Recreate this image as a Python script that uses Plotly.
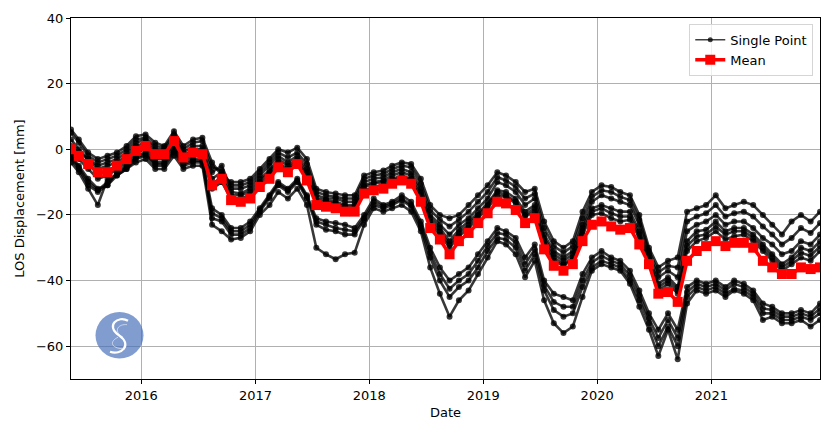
import plotly.graph_objects as go

# ---- data (monthly readings, values in mm) ----
months = ["2015-05-21"] + [f"{y}-{m:02d}-15" for y in range(2015, 2022) for m in range(1, 13)
                            if not (y == 2015 and m < 6)]

mean_vals = [0, -2, -4.5, -7, -7, -5, -3, -0.5,
             1, -1.5, -1.5, 2.5, -2.5, -1, -1.5, -11, -9, -15.5, -16, -15,
             -11.5, -9, -5.5, -7, -4.5, -9.5, -17, -17.5, -18, -19, -19, -13.5,
             -12.5, -12, -10.5, -9.5, -10.5, -16, -24, -27.5, -32, -28, -25.5, -22.5,
             -19.5, -16, -16.5, -18.5, -22.5, -21, -30.5, -35.5, -37, -35, -28, -23,
             -22, -23.5, -24.5, -24, -29, -35, -44, -43.5, -46.5, -34, -31, -29.5,
             -28, -29.5, -28.5, -28.5, -30, -34, -36, -38, -38, -36, -36.5, -36]

point_u1 = [6, 3, -1, -3, -2, -1, 1, 4,
            4.5, 2, 1, 5.5, 1, 3, 3.5, -4, -8, -10, -10, -9,
            -6, -3, 0, -1, 0.5, -3, -12, -13, -13.5, -14, -14, -8,
            -7, -6.5, -5, -4, -4.5, -9, -17, -20, -21, -20, -17, -14,
            -11, -7, -8, -10, -13, -12, -22, -28, -30, -28, -19, -13,
            -11, -11.5, -13, -14, -20, -30, -36, -34, -33, -19, -18, -17,
            -14, -18, -17, -16, -17, -20, -23, -26, -22, -20, -22, -19]

point_u4 = [5, 2, -2, -4, -3, -2, 0, 3,
            3.5, 1, 0.5, 4.5, 0, 2, 2.5, -5.5, -6.5, -11, -11, -10,
            -7, -4, -1, -2.5, -1, -4.5, -13, -14, -14.5, -15, -15, -9,
            -8, -7.5, -6, -5, -5.5, -10.5, -18.5, -21.5, -23.5, -21.5, -19, -16,
            -13, -8.5, -9.5, -11.5, -15, -13.5, -24, -29.5, -31.5, -29.5, -21, -14.5,
            -12.5, -13, -14.5, -15.5, -21.5, -31, -37.5, -35.5, -36, -22, -20.5, -19.5,
            -17, -20.5, -19.5, -19, -20.5, -23.5, -26, -29, -27, -24, -25.5, -22.5]

point_u2 = [3, 0, -3, -5, -4, -3, -1, 2,
            3, 0, 0, 3.5, -1, 1, 1, -7, -5, -12, -12, -11,
            -8, -5, -2, -4, -2, -6, -14, -15, -15, -16, -16, -10,
            -9, -8.5, -7, -6, -7, -12, -20, -23, -26, -23, -21, -18,
            -15, -10, -11, -13, -17, -15, -26, -31, -33, -31, -23, -16,
            -14, -15, -16, -17, -23, -32, -39, -37, -39, -25, -23, -22,
            -20, -23, -22, -22, -24, -27, -29, -32, -31, -28, -29, -26]

point_u3 = [1, -1, -3, -6, -5, -4, -2, 1,
            2, -1, -2, 2, -2, 0, 0, -9, -7, -13, -13.5, -12,
            -9, -6.5, -3, -5, -3, -7, -15, -15.5, -16, -17, -17, -11,
            -10, -9.5, -8, -7, -8, -13, -21, -24, -28, -24.5, -22, -19.5,
            -16.5, -12.5, -13, -15, -19, -17, -27, -32, -34, -32, -24, -18,
            -17, -18, -19, -19, -25, -33, -41, -39, -42, -28, -25, -24.5,
            -22, -25, -24, -24, -26, -29, -32, -35, -33, -30, -31, -28]

point_u5 = [0, -2, -4.5, -7.5, -6.5, -5, -3, 0,
            1, -2, -2.5, 1.5, -3, -1, -1, -10.5, -8.5, -14, -14, -13,
            -10, -7, -4, -6, -3.5, -8, -16, -16, -16.5, -17.5, -17.5, -11.5,
            -10.5, -10, -9, -8, -9, -14, -22, -25, -29, -25.5, -23, -20,
            -17, -13, -14, -16, -20, -18, -28, -33, -35, -33, -25, -19,
            -18, -19.5, -20.5, -20.5, -26, -33.5, -42, -40, -43, -29.5, -26.5, -26,
            -23.5, -26, -25, -25, -27, -30, -33, -36, -34, -31.5, -32.5, -29.5]

point_m1 = [-1, -3, -6, -9, -8, -6, -4, -1,
            0, -3, -3, 1, -3.5, -2, -2, -12, -10, -15, -15, -14,
            -11, -8, -5, -6.5, -4, -9, -16.5, -17, -17.5, -18, -18.5, -12.5,
            -11.5, -11, -9.5, -8.5, -9.5, -15, -23, -26, -30, -26.5, -24, -21,
            -18, -14, -14.5, -16.5, -20.5, -19, -29, -34, -35.5, -33.5, -26, -20,
            -19.5, -21, -22, -21.5, -27, -34, -43, -41, -44, -31, -28, -27,
            -25, -27.5, -26.5, -26, -28, -31, -34, -37, -35, -33, -34, -31]

point_l1 = [-2, -5, -9, -12, -11, -7, -5, -2,
            -1, -4, -4, 0, -4, -3, -3, -18, -20, -24, -24, -22,
            -18, -14, -10, -12, -9, -14, -21, -22, -22.5, -23, -24, -20,
            -15, -17, -16, -14, -16, -22, -30, -36, -40, -38, -36, -32,
            -28, -24, -25, -27, -33, -29, -40, -44, -45, -46, -38, -33,
            -31, -33, -34, -37, -43, -50, -55, -50, -55, -42, -40, -41,
            -40, -42, -40, -41, -43, -47, -48, -50, -50, -49, -50, -47]

point_l4 = [-2.5, -5.5, -10, -12.5, -10, -7.5, -5.5, -2.5,
            -1.5, -4.5, -4.5, -0.5, -4.5, -3.5, -3.5, -19.5, -21, -25, -25, -23,
            -18.5, -14.5, -10.5, -12.5, -9.5, -14.5, -22, -23, -24, -24.5, -25, -21,
            -16, -17.5, -16.5, -15, -17, -23, -31.5, -38, -42.5, -40, -38, -34,
            -29.5, -25.5, -26, -28.5, -35, -30.5, -41.5, -46.5, -48, -48, -40, -34.5,
            -32.5, -34, -35, -38.5, -44.5, -51.5, -57.5, -52, -57.5, -43.5, -41, -42,
            -41, -43, -41, -42, -44, -48.5, -49, -51, -51, -50, -51, -48.5]

point_l2 = [-3, -6, -11, -13, -11, -8, -6, -3,
            -2, -5, -5, -1, -5, -4, -4, -21, -22, -26, -26, -24,
            -19, -15, -11, -13, -10, -15, -23, -24.5, -25, -26, -26, -21.5,
            -17, -18, -17, -15.5, -17.5, -24, -33, -40, -45, -42, -40, -36,
            -31, -27, -27.5, -30, -37, -32, -43, -49, -51, -50, -42, -36,
            -34, -35, -36, -40, -46, -53, -60, -54, -60, -45, -42, -43,
            -42, -44, -42.5, -43, -45, -50, -50, -52, -52, -51, -52, -50]

point_l3 = [-4, -7, -12, -17, -9, -8, -6, -4,
            -3, -6, -6, -2, -6, -5, -5, -23, -25, -27.5, -27, -25,
            -20, -17, -13, -15, -12, -17, -30, -32, -33.5, -32, -31.5, -23,
            -18, -19, -18, -17, -19, -25, -36, -44, -51, -46, -43, -38,
            -33, -28, -29, -32, -39, -34, -46, -53, -56, -54, -45, -37,
            -35, -36, -37, -41, -48, -55, -63, -55, -64, -47, -43, -44,
            -43, -45, -43, -44, -46, -52, -51, -53, -53, -52, -54, -52]

single_points = [point_u1, point_u4, point_u2, point_u3, point_u5, point_m1,
                 point_l1, point_l4, point_l2, point_l3]

y_ticks = [-60, -40, -20, 0, 20, 40]
x_ticks = ["2016-01-01", "2017-01-01", "2018-01-01", "2019-01-01", "2020-01-01", "2021-01-01"]
x_tick_text = ["2016", "2017", "2018", "2019", "2020", "2021"]

FONT = "DejaVu Sans, Liberation Sans, sans-serif"

fig = go.Figure()
for i, vals in enumerate(single_points):
    fig.add_trace(go.Scatter(
        x=months, y=vals, mode="lines+markers", name="Single Point",
        showlegend=False, legendgroup="sp",
        line=dict(color="rgba(0,0,0,0.78)", width=2.6),
        marker=dict(color="rgba(0,0,0,0.78)", size=6, symbol="circle"),
    ))
# legend-only entry with the thin matplotlib-style handle
fig.add_trace(go.Scatter(
    x=[None], y=[None], mode="lines+markers", name="Single Point", legendgroup="sp",
    line=dict(color="rgba(0,0,0,0.75)", width=1.5),
    marker=dict(color="rgba(0,0,0,0.75)", size=5, symbol="circle"),
))

fig.add_trace(go.Scatter(
    x=months, y=mean_vals, mode="lines+markers", name="Mean",
    line=dict(color="#ff0000", width=3.5),
    marker=dict(color="#ff0000", size=10, symbol="square"),
))

# ---- logo (decorative) ----
L, R, T, B = 71, 820, 11, 383
def px(x, y):
    return (x - L) / (R - L), (B - y) / (B - T)

cx0, cy0 = px(95.5, 362)
cx1, cy1 = px(143.5, 314)
fig.add_shape(type="circle", xref="paper", yref="paper", x0=cx0, y0=cy0, x1=cx1, y1=cy1,
              fillcolor="rgba(70,110,185,0.68)", line=dict(width=0), layer="above")

def path(points):
    s = ""
    for k, (x, y) in enumerate(points):
        a, b = px(x, y)
        if k == 0:
            s += f"M{a:.4f},{b:.4f}"
        elif (k - 1) % 3 == 0:
            s += f" C{a:.4f},{b:.4f}"
        else:
            s += f" {a:.4f},{b:.4f}"
    return s

s_curve = path([(128, 323), (118, 317), (105, 328), (119, 338),
                (133, 348), (121, 359), (110, 355)])
fig.add_shape(type="path", xref="paper", yref="paper", path=s_curve,
              line=dict(color="white", width=2.2), layer="above")
s_curve2 = path([(127, 327), (119, 326), (112, 333), (123, 340)])
fig.add_shape(type="path", xref="paper", yref="paper", path=s_curve2,
              line=dict(color="rgba(255,255,255,0.55)", width=1), layer="above")
s_curve3 = path([(118, 340), (108, 345), (112, 352), (125, 352)])
fig.add_shape(type="path", xref="paper", yref="paper", path=s_curve3,
              line=dict(color="rgba(255,255,255,0.55)", width=1), layer="above")

axis_common = dict(
    showline=True, linecolor="black", linewidth=1, mirror=True,
    ticks="outside", ticklen=4, tickcolor="black", tickwidth=1,
    showgrid=True, gridcolor="#b0b0b0", gridwidth=0.8,
    zeroline=False, tickfont=dict(family=FONT, size=13, color="black"),
)

fig.update_layout(
    width=836, height=429,
    margin=dict(l=L, r=836 - R, t=T, b=429 - B),
    paper_bgcolor="white", plot_bgcolor="white",
    font=dict(family=FONT, size=13, color="black"),
    xaxis=dict(type="date", range=["2015-05-21", "2021-12-15"],
               tickvals=x_ticks, ticktext=x_tick_text,
               title=dict(text="Date", font=dict(family=FONT, size=13), standoff=6),
               **axis_common),
    yaxis=dict(range=[-70, 40], tickvals=y_ticks,
               title=dict(text="LOS Displacement [mm]", font=dict(family=FONT, size=13), standoff=8),
               **axis_common),
    legend=dict(x=0.991, y=0.984, xanchor="right", yanchor="top",
                bgcolor="rgba(255,255,255,0.8)", bordercolor="#d5d5d5", borderwidth=1,
                font=dict(family=FONT, size=13), itemwidth=30, tracegroupgap=0),
    showlegend=True,
)

fig.write_html("out.html")
